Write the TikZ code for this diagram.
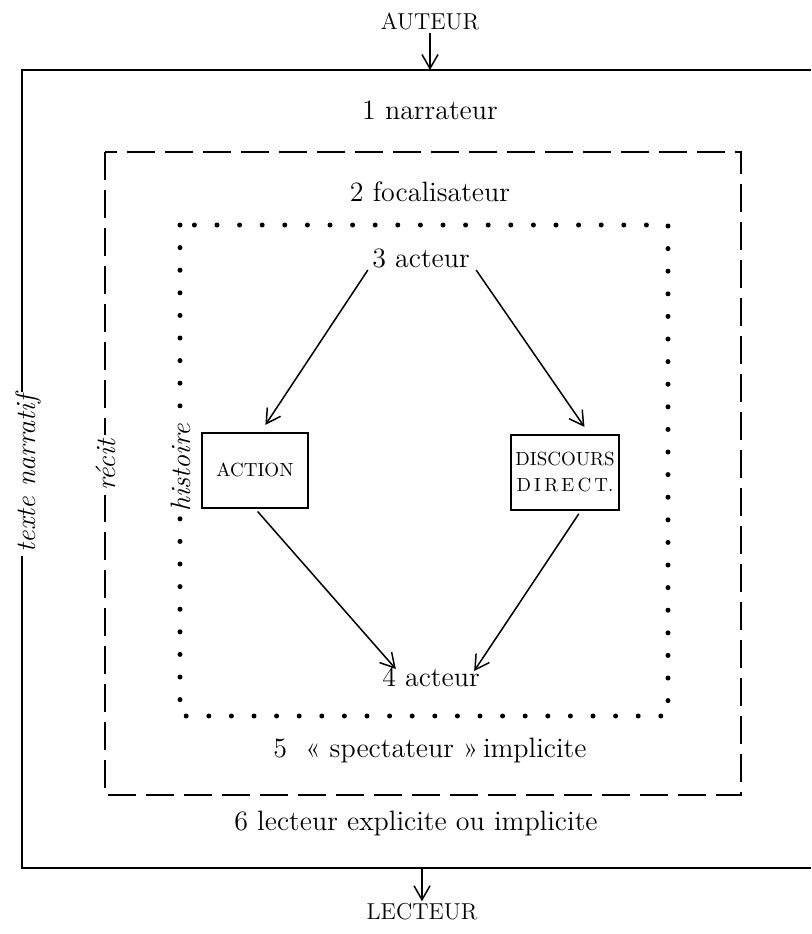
\documentclass[tikz,border=0pt]{standalone}
\usepackage{fontspec}
\usetikzlibrary{arrows.meta}
\begin{document}
\begin{tikzpicture}[x=0.5pt,y=-0.5pt,
  lbl/.style={font=\fontsize{14}{16}\selectfont, inner sep=1pt},
  capt/.style={font=\fontsize{11.5}{13}\selectfont, inner sep=1pt},
  side/.style={font=\fontsize{14}{16}\selectfont\itshape, rotate=90, fill=white, inner sep=2pt},
  arr/.style={line width=0.75pt, -{Straight Barb[length=7pt,width=8pt]}},
  boxed/.style={draw, line width=1pt, minimum width=53pt, minimum height=37.5pt, inner sep=2pt,
                font=\fontsize{9.5}{12}\selectfont, align=center},
  solidframe/.style={line width=1.2pt},
  dashframe/.style={line width=1pt, dash pattern=on 14pt off 5pt},
  dotframe/.style={line width=2.5pt, line cap=round, dash pattern=on 0pt off 11.3pt}
]
\useasboundingbox (0,0) rectangle (811,934);

% outer frame
\draw[solidframe] (811,70) -- (22,70) -- (22,868) -- (811,868);
\draw[dashframe] (105,152) rectangle (741,795);
\draw[dotframe] (180,225) rectangle (668,716);

% side labels
\node[side] (tn) at (28,474) {texte narratif};
\node[side] (recit) at (106,465) {récit};
\node[side] (hist) at (181,468) {histoire};

% top & bottom
\node[capt] (auteur) at (430,22) {AUTEUR};
\coordinate (topin) at (430,70);
\draw[arr] (auteur) -- (topin);
\node[capt] (lecteur) at (422,912) {LECTEUR};
\coordinate (botout) at (422,868);
\draw[arr] (botout) -- (lecteur);

% texts
\node[lbl] (n1) at (430,110) {1 narrateur};
\node[lbl] (n2) at (430,192) {2 focalisateur};
\node[lbl] (a3) at (421,258) {3 acteur};
\node[lbl] (a4) at (431,677) {4 acteur};
\node[lbl] (n5) at (430,750) {5~~« spectateur »\,implicite};
\node[lbl] (n6) at (416,823) {6 lecteur explicite ou implicite};

% boxes
\node[boxed] (action) at (255,470) {ACTION};
\node[boxed] (disc) at (565,472) {DISCOURS\\[1pt]D\,I\,R\,E\,C\,T.};

% arrows
\draw[arr, shorten >=4pt] ([xshift=-1pt]a3.south west) -- ([xshift=3pt]action.north);
\draw[arr, shorten >=4pt] ([xshift=2pt]a3.south east) -- ([xshift=12pt]disc.north);
\draw[arr, shorten <=2pt] (action.south) -- ([xshift=8pt,yshift=-2pt]a4.north west);
\draw[arr, shorten <=2pt] ([xshift=8pt]disc.south) -- ([xshift=-4pt,yshift=-3pt]a4.north east);
\end{tikzpicture}
\end{document}
